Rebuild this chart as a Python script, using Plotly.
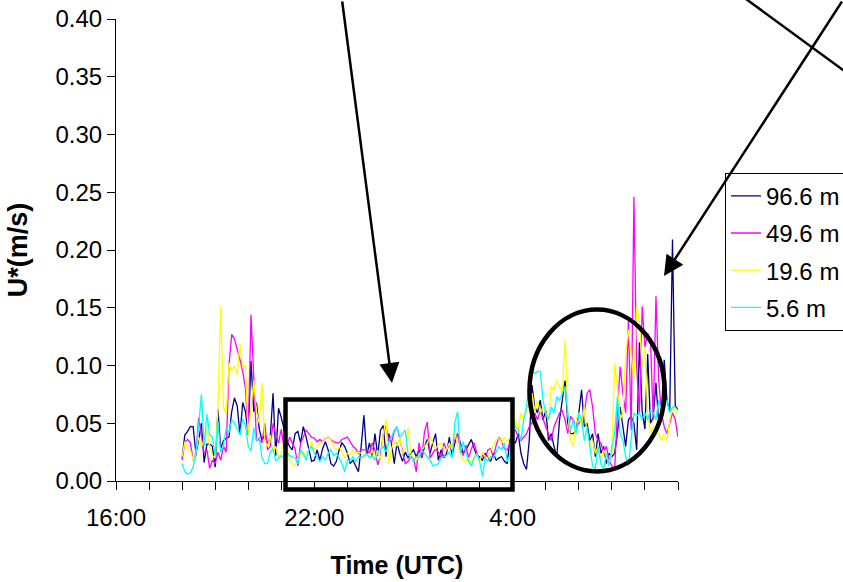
import pandas as pd
import plotly.graph_objects as go

# 5-minute friction velocity series, 18:00 to 09:00 next morning
times = pd.date_range("2008-06-01 18:00", periods=181, freq="5min")

u_96_6 = [
    0.020, 0.040, 0.043, 0.047, 0.047, 0.024, 0.035, 0.050, 0.016, 0.032,
    0.032, 0.030, 0.012, 0.062, 0.028, 0.035, 0.037, 0.038, 0.060, 0.072,
    0.065, 0.040, 0.068, 0.060, 0.040, 0.104, 0.060, 0.068, 0.045, 0.035,
    0.040, 0.032, 0.038, 0.076, 0.022, 0.063, 0.055, 0.045, 0.035,
    0.030, 0.027, 0.041, 0.043, 0.033, 0.047, 0.038, 0.027, 0.017, 0.018,
    0.027, 0.018, 0.028, 0.034, 0.027, 0.015, 0.013, 0.017, 0.027, 0.033,
    0.030, 0.024, 0.015, 0.018, 0.013, 0.008, 0.030, 0.057, 0.022, 0.033,
    0.021, 0.041, 0.022, 0.044, 0.048, 0.021, 0.041, 0.033, 0.015, 0.033,
    0.024,
    0.017, 0.025, 0.020, 0.024, 0.027, 0.021, 0.027, 0.020, 0.030, 0.036,
    0.024, 0.033, 0.041, 0.018, 0.027, 0.020, 0.024, 0.038, 0.022, 0.033,
    0.041, 0.033, 0.024, 0.027, 0.031, 0.036, 0.028, 0.022, 0.021, 0.018,
    0.024, 0.020, 0.017, 0.024, 0.018, 0.020, 0.021, 0.017, 0.015, 0.036,
    0.033, 0.033, 0.041, 0.024, 0.015, 0.010, 0.035, 0.083, 0.064, 0.059,
    0.070, 0.053, 0.061, 0.035, 0.041, 0.030, 0.021, 0.053, 0.070, 0.087,
    0.050, 0.041, 0.041, 0.044, 0.059, 0.079, 0.047, 0.050, 0.035, 0.041,
    0.021, 0.041, 0.024, 0.030, 0.015, 0.024, 0.021, 0.024, 0.041, 0.064,
    0.047, 0.030, 0.053, 0.056, 0.050, 0.027, 0.120, 0.060, 0.045, 0.110,
    0.050, 0.055, 0.085, 0.050, 0.060, 0.105, 0.070, 0.060, 0.209, 0.065,
    0.062,
]

u_49_6 = [
    0.018, 0.034, 0.036, 0.033, 0.018, 0.022, 0.055, 0.040, 0.024, 0.027,
    0.011, 0.018, 0.015, 0.025, 0.018, 0.030, 0.025, 0.100, 0.127, 0.123,
    0.115, 0.105, 0.095, 0.080, 0.040, 0.144, 0.090, 0.035, 0.036, 0.033,
    0.050, 0.027, 0.030, 0.050, 0.040, 0.033, 0.045, 0.028, 0.030,
    0.038, 0.033, 0.028, 0.013, 0.033, 0.038, 0.044, 0.041, 0.038, 0.037,
    0.034, 0.036, 0.034, 0.037, 0.038, 0.036, 0.034, 0.033, 0.033, 0.036,
    0.037, 0.038, 0.034, 0.030, 0.028, 0.024, 0.027, 0.027, 0.027, 0.024,
    0.033, 0.027, 0.014, 0.022, 0.041, 0.048, 0.036, 0.033, 0.043, 0.047,
    0.036,
    0.024, 0.015, 0.017, 0.021, 0.020, 0.008, 0.033, 0.021, 0.043, 0.051,
    0.020, 0.024, 0.028, 0.025, 0.020, 0.033, 0.027, 0.031, 0.028, 0.036,
    0.041, 0.028, 0.022, 0.031, 0.020, 0.028, 0.033, 0.024, 0.018, 0.022,
    0.020, 0.027, 0.028, 0.020, 0.031, 0.038, 0.034, 0.028, 0.027, 0.033,
    0.044, 0.044, 0.038, 0.035, 0.038, 0.041, 0.047, 0.050, 0.059, 0.053,
    0.061, 0.053, 0.047, 0.041, 0.035, 0.047, 0.053, 0.059, 0.061, 0.053,
    0.041, 0.056, 0.053, 0.047, 0.050, 0.053, 0.059, 0.076, 0.079, 0.064,
    0.041, 0.035, 0.033, 0.024, 0.030, 0.018, 0.013, 0.010, 0.059, 0.099,
    0.076, 0.059, 0.139, 0.044, 0.246, 0.099, 0.059, 0.151, 0.116, 0.128,
    0.122, 0.053, 0.160, 0.087, 0.059, 0.047, 0.041, 0.050, 0.059, 0.053,
    0.038,
]

u_19_6 = [
    0.021, 0.034, 0.027, 0.027, 0.018, 0.025, 0.038, 0.030, 0.035, 0.045,
    0.030, 0.022, 0.020, 0.062, 0.151, 0.064, 0.058, 0.102, 0.095, 0.100,
    0.092, 0.119, 0.098, 0.100, 0.040, 0.065, 0.087, 0.060, 0.050, 0.085,
    0.035, 0.030, 0.040, 0.025, 0.030, 0.020, 0.025, 0.035, 0.030,
    0.018, 0.014, 0.013, 0.021, 0.024, 0.021, 0.024, 0.027, 0.034, 0.027,
    0.030, 0.033, 0.034, 0.037, 0.038, 0.036, 0.030, 0.027, 0.030, 0.025,
    0.020, 0.024, 0.023, 0.027, 0.024, 0.025, 0.024, 0.020, 0.023, 0.020,
    0.027, 0.018, 0.027, 0.018, 0.041, 0.053, 0.015, 0.027, 0.036, 0.030,
    0.038,
    0.024, 0.027, 0.046, 0.024, 0.020, 0.018, 0.022, 0.027, 0.030, 0.033,
    0.038, 0.033, 0.028, 0.031, 0.033, 0.028, 0.027, 0.033, 0.027, 0.043,
    0.030, 0.024, 0.018, 0.017, 0.020, 0.015, 0.021, 0.022, 0.017, 0.025,
    0.021, 0.020, 0.027, 0.030, 0.036, 0.037, 0.033, 0.038, 0.034, 0.038,
    0.047, 0.053, 0.044, 0.059, 0.053, 0.061, 0.070, 0.076, 0.061, 0.070,
    0.059, 0.064, 0.059, 0.053, 0.082, 0.079, 0.087, 0.082, 0.076, 0.122,
    0.059, 0.035, 0.030, 0.053, 0.059, 0.047, 0.064, 0.041, 0.030, 0.035,
    0.024, 0.030, 0.018, 0.027, 0.021, 0.015, 0.024, 0.102, 0.082, 0.053,
    0.059, 0.110, 0.131, 0.110, 0.087, 0.151, 0.139, 0.099, 0.116, 0.059,
    0.041, 0.047, 0.044, 0.041, 0.035, 0.041, 0.035, 0.053, 0.064, 0.059,
    0.059,
]

u_5_6 = [
    0.015, 0.008, 0.006, 0.007, 0.012, 0.025, 0.048, 0.075, 0.030, 0.058,
    0.040, 0.038, 0.022, 0.052, 0.025, 0.030, 0.046, 0.042, 0.053, 0.050,
    0.045, 0.040, 0.054, 0.048, 0.030, 0.026, 0.046, 0.035, 0.038, 0.020,
    0.015, 0.015, 0.025, 0.028, 0.017, 0.020, 0.022, 0.020, 0.025,
    0.022, 0.021, 0.020, 0.015, 0.027, 0.024, 0.018, 0.027, 0.030, 0.024,
    0.020, 0.017, 0.021, 0.018, 0.024, 0.027, 0.022, 0.024, 0.020, 0.015,
    0.008, 0.018, 0.017, 0.021, 0.017, 0.021, 0.020, 0.022, 0.024, 0.020,
    0.022, 0.018, 0.024, 0.027, 0.030, 0.025, 0.033, 0.038, 0.044, 0.047,
    0.038,
    0.041, 0.044, 0.024, 0.020, 0.017, 0.021, 0.020, 0.027, 0.024, 0.022,
    0.018, 0.013, 0.014, 0.015, 0.020, 0.021, 0.022, 0.025, 0.020, 0.051,
    0.060, 0.024, 0.034, 0.025, 0.017, 0.013, 0.020, 0.024, 0.017, 0.004,
    0.020, 0.017, 0.021, 0.020, 0.025, 0.030, 0.027, 0.033, 0.017, 0.022,
    0.053, 0.047, 0.044, 0.035, 0.053, 0.064, 0.087, 0.095, 0.093, 0.095,
    0.095, 0.070, 0.059, 0.053, 0.064, 0.059, 0.073, 0.070, 0.076, 0.082,
    0.059, 0.044, 0.053, 0.041, 0.059, 0.053, 0.035, 0.047, 0.030, 0.013,
    0.010, 0.030, 0.015, 0.010, 0.024, 0.013, 0.030, 0.041, 0.073, 0.041,
    0.035, 0.021, 0.013, 0.035, 0.059, 0.056, 0.059, 0.053, 0.059, 0.053,
    0.061, 0.059, 0.053, 0.070, 0.059, 0.064, 0.070, 0.059, 0.064, 0.064,
    0.061,
]

series_names = ["96.6 m", "49.6 m", "19.6 m", "5.6 m"]
series_values = [u_96_6, u_49_6, u_19_6, u_5_6]
series_colors = ["#000080", "#FF00FF", "#FFFF00", "#00FFFF"]

tick_times = ["2008-06-01 16:00", "2008-06-01 22:00", "2008-06-02 04:00"]
tick_labels = ["16:00", "22:00", "4:00"]
hour_ticks = pd.date_range("2008-06-01 16:00", "2008-06-02 09:00", freq="h")

W, H = 843, 582
L, R, T, B = 116, 165, 19, 101
PW, PH = W - L - R, H - T - B


def px(x):
    return (x - L) / PW


def py(y):
    return (H - B - y) / PH


FONT = "Liberation Sans, Arial, sans-serif"

fig = go.Figure()
for name, vals, col in zip(series_names, series_values, series_colors):
    fig.add_trace(go.Scatter(
        x=times, y=vals, mode="lines", name=name, legendgroup=name,
        line=dict(color=col, width=1.3),
    ))

fig.update_layout(
    width=W, height=H,
    margin=dict(l=L, r=R, t=T, b=B, autoexpand=False),
    paper_bgcolor="white", plot_bgcolor="white",
    font=dict(family=FONT, size=24, color="black"),
    showlegend=True,
    legend=dict(
        x=px(725), y=py(172.7), xanchor="left", yanchor="top",
        bordercolor="black", borderwidth=1, bgcolor="white",
        font=dict(size=24), tracegroupgap=3,
    ),
)

fig.update_xaxes(
    type="date",
    range=["2008-06-01 16:00", "2008-06-02 09:00"],
    tickmode="array", tickvals=tick_times, ticktext=tick_labels,
    ticks="outside", ticklen=8, tickwidth=1, tickcolor="black",
    ticklabelstandoff=7,
    minor=dict(tickmode="array", tickvals=list(hour_ticks), ticks="outside",
               ticklen=8, tickwidth=1, tickcolor="black"),
    showline=True, linecolor="black", linewidth=1,
    showgrid=False, zeroline=False,
    title=dict(text="<b>Time (UTC)</b>", font=dict(size=25), standoff=26),
)
fig.update_yaxes(
    range=[0, 0.40], dtick=0.05, tick0=0, tickformat=".2f",
    ticks="outside", ticklen=8, tickwidth=1, tickcolor="black",
    showline=True, linecolor="black", linewidth=1,
    showgrid=False, zeroline=False,
    title=dict(text="<b>U*(m/s)</b>", font=dict(size=27), standoff=20),
)

# Highlight boxes around the quiet and the transition periods
fig.add_shape(type="rect", xref="paper", yref="paper",
              x0=px(285.5), x1=px(512.5), y0=py(489.5), y1=py(399.5),
              line=dict(color="black", width=4.5))
fig.add_shape(type="circle", xref="paper", yref="paper",
              x0=px(529.5), x1=px(664.5), y0=py(471.5), y1=py(309.5),
              line=dict(color="black", width=4.5))
fig.add_shape(type="line", xref="paper", yref="paper",
              x0=px(746), y0=py(-1), x1=px(880), y1=py(97),
              line=dict(color="black", width=2.5))

# Pointer arrows
for tip, tail in [((392, 383), (342, -2)), ((664, 276), (871, 0))]:
    fig.add_annotation(
        xref="paper", yref="paper", x=px(tip[0]), y=py(tip[1]),
        ax=tail[0] - tip[0], ay=tail[1] - tip[1], axref="pixel", ayref="pixel",
        text="", showarrow=True, arrowhead=2, arrowsize=1.6, arrowwidth=2.5,
        arrowcolor="black",
    )

fig.write_html("out.html")
